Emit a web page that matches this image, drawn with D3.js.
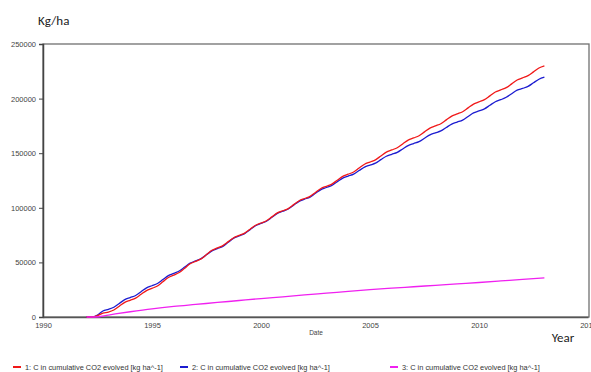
<!DOCTYPE html>
<html>
<head>
<meta charset="utf-8">
<script src="https://cdn.jsdelivr.net/npm/d3@7"></script>
<style>
  body { margin: 0; background: #fff; }
  svg { display: block; font-family: Arial, "Liberation Sans", sans-serif; }
</style>
</head>
<body>
<div class="chart-holder"></div>
<script>
// quarter dates (decimal years) for series 1 and 2
let quarterDates = [
  1992.0, 1992.25, 1992.5, 1992.75,
  1993.0, 1993.25, 1993.5, 1993.75, 1994.0, 1994.25, 1994.5, 1994.75,
  1995.0, 1995.25, 1995.5, 1995.75, 1996.0, 1996.25, 1996.5, 1996.75,
  1997.0, 1997.25, 1997.5, 1997.75, 1998.0, 1998.25, 1998.5, 1998.75,
  1999.0, 1999.25, 1999.5, 1999.75, 2000.0, 2000.25, 2000.5, 2000.75,
  2001.0, 2001.25, 2001.5, 2001.75, 2002.0, 2002.25, 2002.5, 2002.75,
  2003.0, 2003.25, 2003.5, 2003.75, 2004.0, 2004.25, 2004.5, 2004.75,
  2005.0, 2005.25, 2005.5, 2005.75, 2006.0, 2006.25, 2006.5, 2006.75,
  2007.0, 2007.25, 2007.5, 2007.75, 2008.0, 2008.25, 2008.5, 2008.75,
  2009.0, 2009.25, 2009.5, 2009.75, 2010.0, 2010.25, 2010.5, 2010.75,
  2011.0, 2011.25, 2011.5, 2011.75, 2012.0, 2012.25, 2012.5, 2012.75,
  2013.0
]

let series1 = [
  0, 0, 1200, 3600,
  4500, 6400, 9900, 13400, 15300, 17300, 20800, 24200,
  26200, 28400, 32300, 36200, 38400, 40700, 44700, 48700,
  51000, 53200, 57200, 61100, 63300, 65400, 69000, 72600,
  74700, 76800, 80400, 84000, 86100, 88100, 91700, 95300,
  97300, 99300, 102900, 106500, 108500, 110500, 114100, 117700,
  119700, 121700, 125300, 128800, 130800, 132800, 136400, 139900,
  141900, 143900, 147500, 151000, 153000, 155000, 158500, 162000,
  164000, 166000, 169500, 173000, 175000, 177000, 180500, 184000,
  186000, 188000, 191500, 195000, 197000, 199000, 202500, 206000,
  208000, 210000, 213500, 217000, 219000, 221000, 224500, 228000,
  230000
]

let series2 = [
  0, 0, 1800, 5500,
  7000, 8900, 12400, 15900, 17800, 19700, 23200, 26700,
  28600, 30700, 34300, 37900, 40000, 42100, 45700, 49300,
  51400, 53400, 57000, 60600, 62600, 64700, 68500, 72200,
  74300, 76400, 80000, 83600, 85700, 87700, 91300, 94900,
  96900, 98900, 102400, 105900, 107900, 109800, 113300, 116700,
  118600, 120500, 123900, 127200, 129100, 130900, 134100, 137300,
  139100, 140900, 144100, 147200, 149000, 150800, 153900, 157000,
  158800, 160600, 163700, 166800, 168600, 170400, 173600, 176700,
  178500, 180300, 183600, 186900, 188700, 190600, 193900, 197100,
  199000, 201200, 204500, 207700, 209300, 211200, 214500, 217700,
  219600
]

// series 3 is smooth, yearly points are enough
let yearDates = [1992.0, 1992.4, 1993, 1994, 1995, 1996, 1997, 1998, 1999, 2000, 2001,
  2002, 2003, 2004, 2005, 2006, 2007, 2008, 2009, 2010, 2011, 2012, 2013]
let series3 = [0, 0, 1800, 4800, 7500, 9700, 11500, 13300, 15100, 16900, 18500,
  20200, 21800, 23400, 25000, 26400, 27700, 29000, 30300, 31600, 33000, 34400, 35900]

let yTicks = [0, 50000, 100000, 150000, 200000, 250000]
let xTicks = [1990, 1995, 2000, 2005, 2010, 2015]
let legendLabels = [
  '1: C in cumulative CO2 evolved [kg ha^-1]',
  '2: C in cumulative CO2 evolved [kg ha^-1]',
  '3: C in cumulative CO2 evolved [kg ha^-1]'
]
let colors = ['#f01818', '#1c1cd0', '#f020f0']

let width = 591
let height = 372
let plot = { left: 43, right: 588, top: 44, bottom: 317 }

let svg = d3.select('.chart-holder')
  .append('svg')
    .attr('width', width)
    .attr('height', height)

let x = d3.scaleLinear().domain([1990, 2015]).range([plot.left, plot.right])
let y = d3.scaleLinear().domain([0, 250000]).range([plot.bottom, plot.top])

// frame
svg.append('rect')
  .attr('x', plot.left).attr('y', plot.top)
  .attr('width', plot.right + 1 - plot.left).attr('height', plot.bottom - plot.top)
  .attr('fill', 'none')
  .attr('stroke', '#707070')
  .attr('stroke-width', 1.3)

let yAxis = svg.append('g')
  .attr('transform', 'translate(' + plot.left + ',0)')
  .call(d3.axisLeft(y).tickValues(yTicks).tickSize(4).tickPadding(3).tickFormat(d3.format('d')))
yAxis.select('.domain').attr('stroke', '#444').attr('stroke-width', 1.5)
yAxis.selectAll('line').attr('stroke', '#444')
yAxis.selectAll('text').attr('font-size', 7.5).attr('fill', '#444').attr('font-family', 'Arial, sans-serif')

let xAxis = svg.append('g')
  .attr('transform', 'translate(0,' + plot.bottom + ')')
  .call(d3.axisBottom(x).tickValues(xTicks).tickSize(0).tickPadding(6).tickFormat(d3.format('d')))
xAxis.select('.domain').attr('stroke', '#555').attr('stroke-width', 1.5)
xAxis.selectAll('text').attr('font-size', 7.5).attr('fill', '#444').attr('font-family', 'Arial, sans-serif')

let line = d3.line()
  .x(d => x(d[0]))
  .y(d => y(d[1]))
  .curve(d3.curveMonotoneX)

let lineData = [
  { color: colors[1], pts: d3.zip(quarterDates, series2) },
  { color: colors[0], pts: d3.zip(quarterDates, series1) },
  { color: colors[2], pts: d3.zip(yearDates, series3) }
]

svg.append('g').attr('class', 'lines')
  .selectAll('path')
  .data(lineData)
  .enter()
  .append('path')
    .attr('d', d => line(d.pts))
    .attr('fill', 'none')
    .attr('stroke', d => d.color)
    .attr('stroke-width', 1.3)

// titles
svg.append('text')
  .attr('x', 38).attr('y', 25)
  .attr('font-family', 'Carlito, Calibri, "Open Sans", sans-serif')
  .attr('font-size', 13)
  .attr('fill', '#222')
  .text('Kg/ha')

svg.append('text')
  .attr('x', 563).attr('y', 342)
  .attr('text-anchor', 'middle')
  .attr('font-family', 'Carlito, Calibri, "Open Sans", sans-serif')
  .attr('font-size', 13)
  .attr('fill', '#222')
  .text('Year')

svg.append('text')
  .attr('x', 316).attr('y', 335)
  .attr('text-anchor', 'middle')
  .attr('font-size', 6.5)
  .attr('fill', '#444')
  .text('Date')

// legend
let legendX = [13, 180, 390]
let legend = svg.append('g').attr('class', 'legend')
  .selectAll('g')
  .data(legendLabels)
  .enter()
  .append('g')
    .attr('transform', (d, i) => 'translate(' + legendX[i] + ',367)')

legend.append('line')
  .attr('x1', 0).attr('x2', 8)
  .attr('y1', 0).attr('y2', 0)
  .attr('stroke', (d, i) => colors[i])
  .attr('stroke-width', 2)

legend.append('text')
  .attr('x', 12).attr('y', 2.5)
  .attr('font-size', 7.4)
  .attr('fill', '#333')
  .text(d => d)
</script>
</body>
</html>
